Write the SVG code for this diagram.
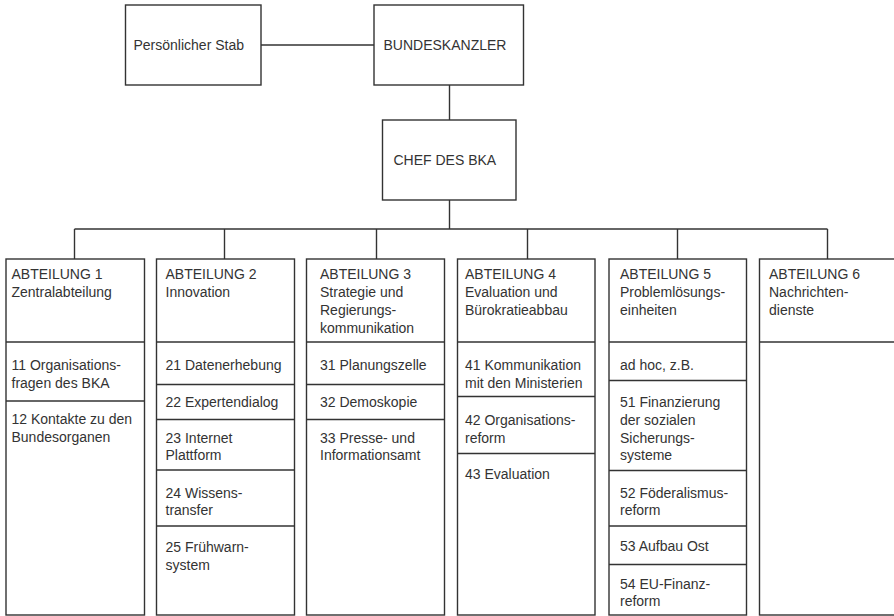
<svg xmlns="http://www.w3.org/2000/svg" width="894" height="616" viewBox="0 0 894 616">
<style>
rect,line{fill:none;stroke:#333;stroke-width:1.4}
rect{fill:#fff}
text{font-family:"Liberation Sans",Arial,sans-serif;font-size:14px;fill:#333}
</style>
<rect x="0" y="0" width="894" height="616" style="stroke:none"/>
<g id="connectors">
<line x1="261" y1="45" x2="374" y2="45"/>
<line x1="449.5" y1="85" x2="449.5" y2="120"/>
<line x1="449.5" y1="200" x2="449.5" y2="229"/>
<line x1="74.5" y1="229" x2="827.5" y2="229"/>
<line x1="74.5" y1="229" x2="74.5" y2="259"/>
<line x1="224.5" y1="229" x2="224.5" y2="259"/>
<line x1="376.5" y1="229" x2="376.5" y2="259"/>
<line x1="527.5" y1="229" x2="527.5" y2="259"/>
<line x1="677.5" y1="229" x2="677.5" y2="259"/>
<line x1="827.5" y1="229" x2="827.5" y2="259"/>
</g>
<g id="stab">
<rect x="125.5" y="5" width="135.5" height="80"/>
<text x="133.5" y="50">Persönlicher Stab</text>
</g>
<g id="kanzler">
<rect x="374" y="5" width="149.5" height="80"/>
<text x="383.5" y="50">BUNDESKANZLER</text>
</g>
<g id="chef">
<rect x="382.5" y="120" width="133.5" height="80"/>
<text x="393.5" y="165">CHEF DES BKA</text>
</g>
<g id="abt1">
<rect x="6" y="259" width="138.5" height="356"/>
<line x1="6" y1="342" x2="144.5" y2="342"/>
<line x1="6" y1="401" x2="144.5" y2="401"/>
<text x="11.5" y="279">ABTEILUNG 1</text>
<text x="11.5" y="297">Zentralabteilung</text>
<text x="11.5" y="370">11 Organisations-</text>
<text x="11.5" y="387.5">fragen des BKA</text>
<text x="11.5" y="424">12 Kontakte zu den</text>
<text x="11.5" y="441.5">Bundesorganen</text>
</g>
<g id="abt2">
<rect x="156.5" y="259" width="138" height="356"/>
<line x1="156.5" y1="342" x2="294.5" y2="342"/>
<line x1="156.5" y1="384.5" x2="294.5" y2="384.5"/>
<line x1="156.5" y1="419.5" x2="294.5" y2="419.5"/>
<line x1="156.5" y1="470" x2="294.5" y2="470"/>
<line x1="156.5" y1="526" x2="294.5" y2="526"/>
<text x="165.5" y="279">ABTEILUNG 2</text>
<text x="165.5" y="297">Innovation</text>
<text x="165.5" y="370">21 Datenerhebung</text>
<text x="165.5" y="406.5">22 Expertendialog</text>
<text x="165.5" y="442.5">23 Internet</text>
<text x="165.5" y="460">Plattform</text>
<text x="165.5" y="497.5">24 Wissens-</text>
<text x="165.5" y="515">transfer</text>
<text x="165.5" y="551.5">25 Frühwarn-</text>
<text x="165.5" y="569.5">system</text>
</g>
<g id="abt3">
<rect x="306.5" y="259" width="138" height="356"/>
<line x1="306.5" y1="342" x2="444.5" y2="342"/>
<line x1="306.5" y1="384.5" x2="444.5" y2="384.5"/>
<line x1="306.5" y1="419.5" x2="444.5" y2="419.5"/>
<text x="320" y="279">ABTEILUNG 3</text>
<text x="320" y="297">Strategie und</text>
<text x="320" y="314.5">Regierungs-</text>
<text x="320" y="332.5">kommunikation</text>
<text x="320" y="370">31 Planungszelle</text>
<text x="320" y="406.5">32 Demoskopie</text>
<text x="320" y="442.5">33 Presse- und</text>
<text x="320" y="460">Informationsamt</text>
</g>
<g id="abt4">
<rect x="457.5" y="259" width="137.5" height="356"/>
<line x1="457.5" y1="342" x2="595" y2="342"/>
<line x1="457.5" y1="396.5" x2="595" y2="396.5"/>
<line x1="457.5" y1="453.5" x2="595" y2="453.5"/>
<text x="465" y="279">ABTEILUNG 4</text>
<text x="465" y="297">Evaluation und</text>
<text x="465" y="314.5">Bürokratieabbau</text>
<text x="465" y="370">41 Kommunikation</text>
<text x="465" y="387.5">mit den Ministerien</text>
<text x="465" y="425">42 Organisations-</text>
<text x="465" y="442.5">reform</text>
<text x="465" y="478.5">43 Evaluation</text>
</g>
<g id="abt5">
<rect x="609" y="259" width="137.5" height="356"/>
<line x1="609" y1="342" x2="746.5" y2="342"/>
<line x1="609" y1="380.5" x2="746.5" y2="380.5"/>
<line x1="609" y1="470.5" x2="746.5" y2="470.5"/>
<line x1="609" y1="526" x2="746.5" y2="526"/>
<line x1="609" y1="564.5" x2="746.5" y2="564.5"/>
<text x="620" y="279">ABTEILUNG 5</text>
<text x="620" y="297">Problemlösungs-</text>
<text x="620" y="314.5">einheiten</text>
<text x="620" y="369.5">ad hoc, z.B.</text>
<text x="620" y="406.5">51 Finanzierung</text>
<text x="620" y="425">der sozialen</text>
<text x="620" y="442.5">Sicherungs-</text>
<text x="620" y="460">systeme</text>
<text x="620" y="497.5">52 Föderalismus-</text>
<text x="620" y="515">reform</text>
<text x="620" y="550.5">53 Aufbau Ost</text>
<text x="620" y="588.5">54 EU-Finanz-</text>
<text x="620" y="605.5">reform</text>
</g>
<g id="abt6">
<rect x="759.5" y="259" width="140" height="356"/>
<line x1="759.5" y1="342" x2="899" y2="342"/>
<text x="769" y="279">ABTEILUNG 6</text>
<text x="769" y="297">Nachrichten-</text>
<text x="769" y="314.5">dienste</text>
</g>
</svg>
